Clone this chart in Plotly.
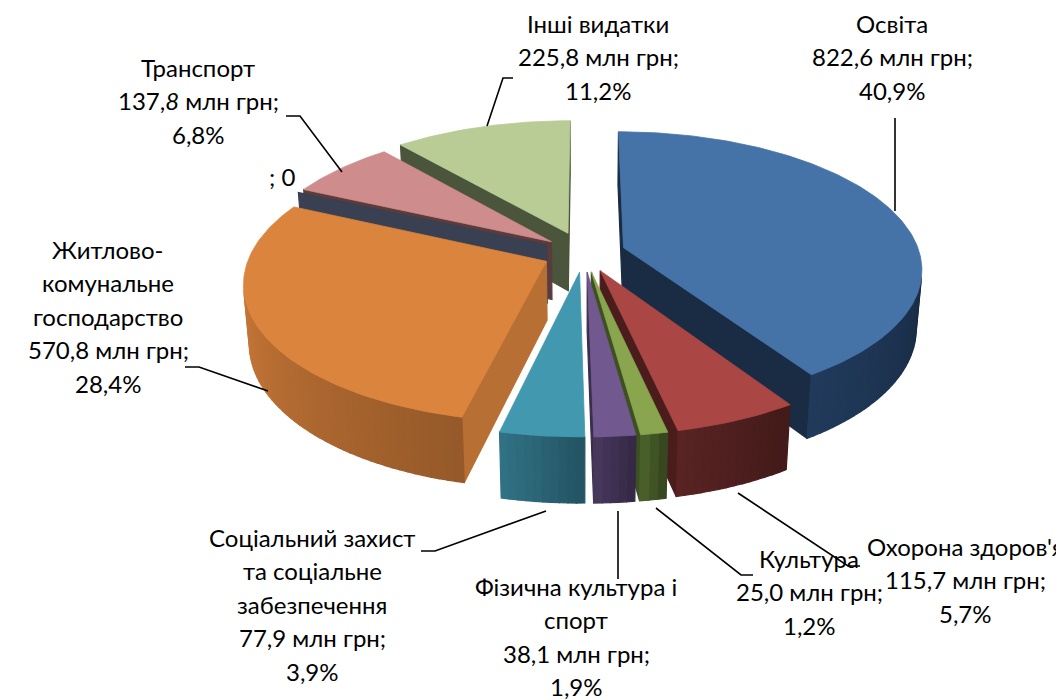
import math
import plotly.graph_objects as go

# ---------------- data ----------------
categories = ["Освіта", "Охорона здоров'я", "Культура", "Фізична культура і спорт",
              "Соціальний захист та соціальне забезпечення",
              "Житлово-комунальне господарство", "", "Транспорт", "Інші видатки"]
values = [822.6, 115.7, 25.0, 38.1, 77.9, 570.8, 0.0, 137.8, 225.8]   # млн грн
percents = [40.9, 5.7, 1.2, 1.9, 3.9, 28.4, 0.0, 6.8, 11.2]
name_lines = [["Освіта"], ["Охорона здоров'я"], ["Культура"], ["Фізична культура і", "спорт"],
              ["Соціальний захист", "та соціальне", "забезпечення"],
              ["Житлово-", "комунальне", "господарство"], [], ["Транспорт"], ["Інші видатки"]]

# ---------------- style ----------------
top_colors = ["#4572A7", "#AA4643", "#89A54E", "#71588F", "#4198AF",
              "#DB843D", "#3A4152", "#CE8D8C", "#B9CC95"]
band_colors = ["#1D3350", "#4D1F1E", "#405325", "#3E3050", "#2A6374",
               "#AE6830", "#394051", "#5B3B3B", "#4B553B"]
cut_colors = ["#1A2C44", "#4A1C1B", "#3D5021", "#3B2D4C", "#2D6B7D",
              "#B86F33", "#394051", "#5B3B3B", "#4B553B"]
explode = [0.14, 0.14, 0.14, 0.14, 0.14, 0.14, 0.14, 0.14, 0.16]
italic_last_digit = {7}

label_pos = [(884, 15), (957, 538), (801, 550), (568, 578), (304, 529),
             (100, 241), (274, 168), (190, 59), (590, 15)]
LINE_STEP = 33.6
leaders = [[(887, 110), (887, 203)],
           [(730, 485), (840, 558), (852, 558)],
           [(648, 500), (733, 567), (745, 567)],
           [(610, 503), (610, 571)],
           [(538, 503), (427, 543), (413, 543)],
           [(260, 383), (191, 359), (177, 359)],
           [],
           [(334, 164), (292, 108), (278, 108)],
           [(479, 118), (495, 70), (505, 70)]]

# pseudo-3D projection parameters
CX, CY = 576, 245
S = 296.0
D = 6.07
PHI = math.radians(27)
H = 0.225
cphi, sphi = math.cos(PHI), math.sin(PHI)
CAM = (0.0, -D * cphi, D * sphi)


def proj(X, Y, Z):
    dep = Y * cphi - Z * sphi + D
    return CX + S * D * X / dep, CY - S * D * (Y * sphi + Z * cphi) / dep


def depth(X, Y, Z):
    return Y * cphi - Z * sphi + D


def shade(hexc, f):
    hexc = hexc.lstrip("#")
    r, g, b = (int(hexc[i:i + 2], 16) for i in (0, 2, 4))
    r, g, b = (max(0, min(255, int(round(c * f)))) for c in (r, g, b))
    return f"rgb({r},{g},{b})"


def visible(P, n):
    v = (P[0] - CAM[0], P[1] - CAM[1], P[2] - CAM[2])
    return v[0] * n[0] + v[1] * n[1] + v[2] * n[2] < 0


total = sum(values)
starts, ends = [], []
acc = 0.0
for v in values:
    starts.append(2 * math.pi * acc / total)
    acc += v
    ends.append(2 * math.pi * acc / total)

sides = []   # (depth, pts, color)
tops = []
for i, v in enumerate(values):
    a0, a1 = starts[i], ends[i]
    am = (a0 + a1) / 2
    ox, oy = explode[i] * math.sin(am), explode[i] * math.cos(am)

    def P(r, th, z):
        return (ox + r * math.sin(th), oy + r * math.cos(th), z)

    # cut faces
    for th, n in ((a0, (-math.cos(a0), math.sin(a0), 0)), (a1, (math.cos(a1), -math.sin(a1), 0))):
        pts3 = [P(0, th, 0), P(1, th, 0), P(1, th, -H), P(0, th, -H)]
        cen = tuple(sum(p[k] for p in pts3) / 4 for k in range(3))
        if visible(cen, n):
            sides.append((depth(*cen), [proj(*p) for p in pts3], cut_colors[i]))
        if a1 - a0 < 1e-9:
            break
    if a1 - a0 < 1e-9:
        continue
    # outer band
    nseg = max(2, int(math.ceil(math.degrees(a1 - a0) / 1.5)))
    segs = []
    for j in range(nseg):
        t0 = a0 + (a1 - a0) * j / nseg
        t1 = a0 + (a1 - a0) * (j + 1) / nseg
        tm = (t0 + t1) / 2
        pm = P(1, tm, -H / 2)
        if visible(pm, (math.sin(tm), math.cos(tm), 0)):
            segs.append((t0, t1, tm, pm))
    if segs:
        tmin, tmax = segs[0][2], segs[-1][2]
        for t0, t1, tm, pm in segs:
            frac = 0.5 if tmax == tmin else (tm - tmin) / (tmax - tmin)
            col = shade(band_colors[i], 0.86 + 0.28 * frac)
            pts3 = [P(1, t0, 0), P(1, t1, 0), P(1, t1, -H), P(1, t0, -H)]
            sides.append((depth(*pm), [proj(*p) for p in pts3], col))
    # top face
    ntop = max(4, int(math.ceil(math.degrees(a1 - a0))))
    pts = [proj(*P(0, a0, 0))]
    for j in range(ntop + 1):
        th = a0 + (a1 - a0) * j / ntop
        pts.append(proj(*P(1, th, 0)))
    tops.append((pts, top_colors[i]))

fig = go.Figure()


def add_poly(pts, color, lw=0.8):
    xs = [p[0] for p in pts] + [pts[0][0]]
    ys = [p[1] for p in pts] + [pts[0][1]]
    fig.add_trace(go.Scatter(x=xs, y=ys, mode="lines", fill="toself", fillcolor=color,
                             line=dict(color=color, width=lw), hoverinfo="skip",
                             showlegend=False))


for dep, pts, col in sorted(sides, key=lambda s: -s[0]):
    add_poly(pts, col, 1.2)
for pts, col in tops:
    add_poly(pts, col, 0.8)


def fmt(x):
    return f"{x:.1f}".replace(".", ",")


annotations = []
FONT = dict(family="Lato, 'Noto Sans', sans-serif", size=24, color="#000000")
for i, v in enumerate(values):
    if v == 0:
        lines = [f"{categories[i]}; {int(v)}"]
    else:
        val = fmt(v)
        if i in italic_last_digit:
            val = val[:-1] + "<i>" + val[-1] + "</i>"
        lines = name_lines[i] + [f"{val} млн грн;", f"{fmt(percents[i])}%"]
    x0, y0 = label_pos[i]
    for k, ln in enumerate(lines):
        annotations.append(dict(x=x0, y=y0 + k * LINE_STEP, xref="x", yref="y", text=ln,
                                showarrow=False, xanchor="center", yanchor="middle", font=FONT))

shapes = []
for path in leaders:
    if len(path) < 2:
        continue
    d = "M " + " L ".join(f"{x},{y}" for x, y in path)
    shapes.append(dict(type="path", path=d, xref="x", yref="y",
                       line=dict(color="#000000", width=1.6)))

fig.update_layout(
    width=1064, height=700,
    margin=dict(l=0, r=0, t=0, b=0),
    paper_bgcolor="white", plot_bgcolor="white",
    xaxis=dict(range=[0, 1064], visible=False, fixedrange=True),
    yaxis=dict(range=[700, 0], visible=False, fixedrange=True),
    annotations=annotations, shapes=shapes, showlegend=False,
)
fig.write_html("out.html")
